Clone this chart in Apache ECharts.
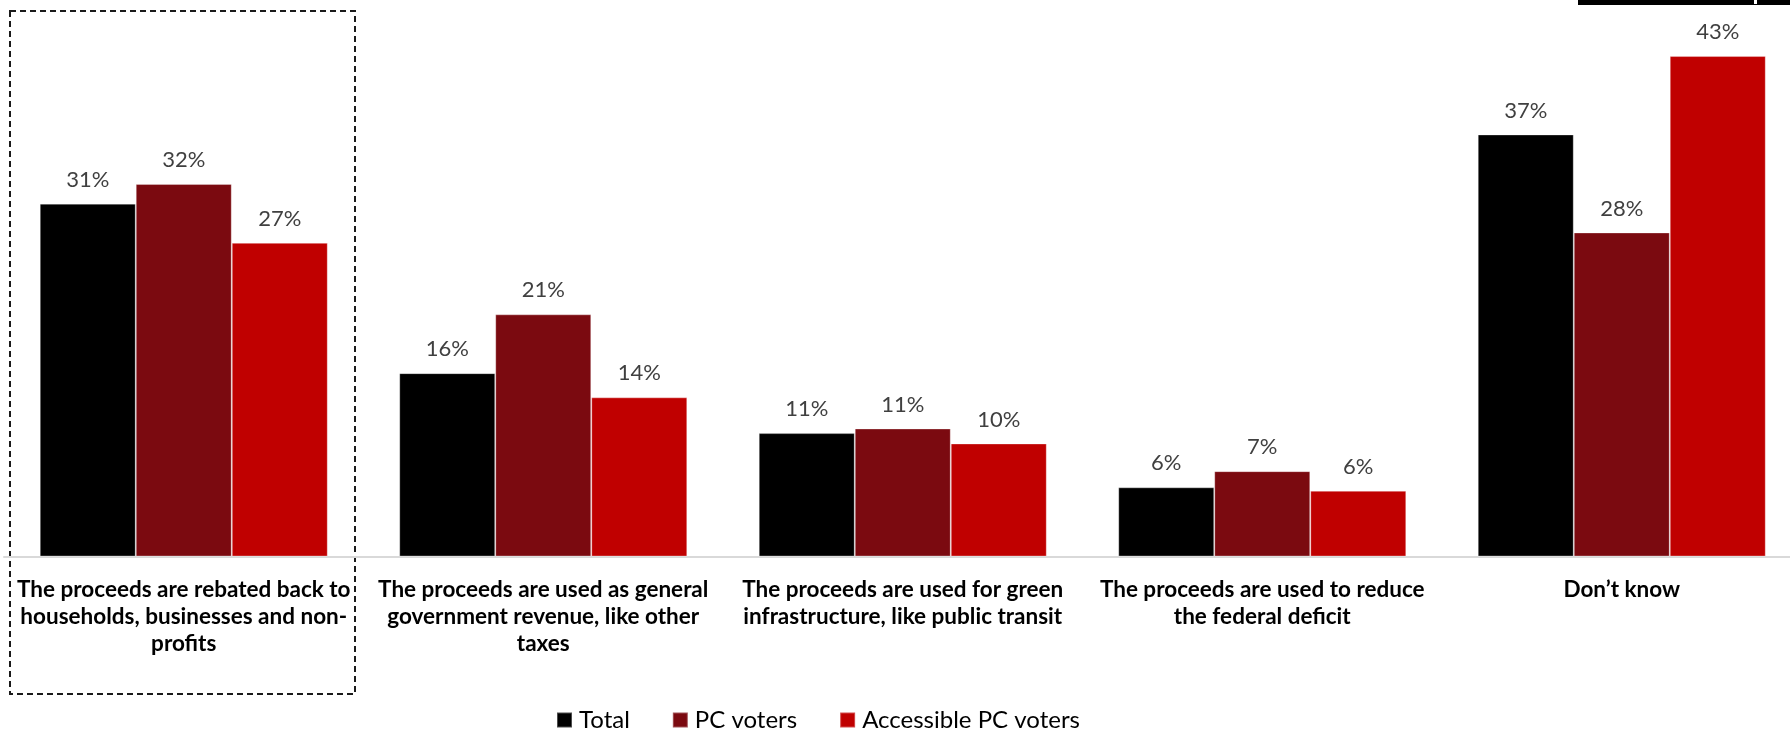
<!DOCTYPE html>
<html>
<head>
<meta charset="utf-8">
<script src="https://cdn.jsdelivr.net/npm/echarts@6/dist/echarts.min.js"></script>
<style>
  html, body { margin: 0; padding: 0; background: #ffffff; }
  #chart { width: 1790px; height: 733px; }
</style>
</head>
<body>
<div id="chart"></div>
<script>
const categories = [
  'The proceeds are rebated back to\nhouseholds, businesses and non-\nprofits',
  'The proceeds are used as general\ngovernment revenue, like other\ntaxes',
  'The proceeds are used for green\ninfrastructure, like public transit',
  'The proceeds are used to reduce\nthe federal deficit',
  'Don\u2019t know'
];
const seriesNames = ['Total', 'PC voters', 'Accessible PC voters'];
const totalValues = [30.6, 15.9, 10.7, 6.0, 36.6];
const pcValues = [32.3, 21.0, 11.1, 7.4, 28.1];
const accessibleValues = [27.2, 13.8, 9.8, 5.7, 43.4];
const seriesColors = ['#000000', '#7B0A10', '#C00000'];

const FONT = 'Lato, "Open Sans", "Noto Sans", sans-serif';

const chart = echarts.init(document.getElementById('chart'), null, { renderer: 'canvas' });

function makeSeries(name, data, color) {
  return {
    name: name,
    type: 'bar',
    data: data,
    barWidth: 96,
    barGap: '0%',
    itemStyle: { color: color, borderColor: 'rgba(255,255,255,0.3)', borderWidth: 1 },
    label: {
      show: true,
      position: 'top',
      distance: 13,
      color: '#404040',
      fontFamily: FONT,
      fontSize: 22,
      formatter: p => Math.round(p.value) + '%'
    },
    emphasis: { disabled: true },
    animation: false
  };
}

const option = {
  backgroundColor: '#ffffff',
  animation: false,
  grid: { left: 4, width: 1797.5, top: 37.6, bottom: 176.5, containLabel: false, outerBoundsMode: 'none' },
  xAxis: {
    type: 'category',
    data: categories,
    axisLine: { show: true, lineStyle: { color: '#d9d9d9', width: 2 } },
    axisTick: { show: false },
    axisLabel: {
      interval: 0,
      margin: 20,
      color: '#000000',
      fontFamily: FONT,
      fontWeight: 'bold',
      fontSize: 22.5,
      lineHeight: 27,
      align: 'center'
    }
  },
  yAxis: {
    type: 'value',
    min: 0,
    max: 45,
    show: false,
    splitLine: { show: false }
  },
  legend: {
    data: seriesNames,
    left: 556,
    top: 708,
    padding: 0,
    itemGap: 42,
    itemWidth: 15,
    itemHeight: 15,
    icon: 'rect',
    textStyle: { color: '#000000', fontFamily: FONT, fontSize: 24, padding: [0, 0, 0, 2] }
  },
  series: [
    makeSeries(seriesNames[0], totalValues, seriesColors[0]),
    makeSeries(seriesNames[1], pcValues, seriesColors[1]),
    makeSeries(seriesNames[2], accessibleValues, seriesColors[2])
  ],
  graphic: [
    {
      type: 'rect',
      shape: { x: 10, y: 11, width: 345, height: 683 },
      style: { fill: 'none', stroke: '#1a1a1a', lineWidth: 2, lineDash: [6, 4] },
      silent: true
    },
    {
      type: 'rect',
      shape: { x: 1578, y: 0, width: 212, height: 5 },
      style: { fill: '#000000' },
      silent: true
    },
    {
      type: 'rect',
      shape: { x: 1754, y: 0, width: 3, height: 4 },
      style: { fill: '#ffffff' },
      silent: true
    }
  ]
};

chart.setOption(option);
</script>
</body>
</html>
